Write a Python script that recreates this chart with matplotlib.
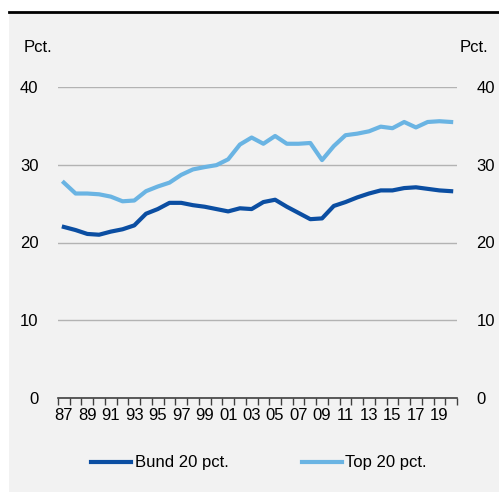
import numpy as np
import matplotlib.pyplot as plt
from matplotlib.patches import Rectangle
from matplotlib.lines import Line2D

plt.rcParams['font.family'] = ['Liberation Sans', 'DejaVu Sans']
plt.rcParams['font.size'] = 12

years = list(range(1987, 2021))
bund_20 = [22.0, 21.6, 21.1, 21.0, 21.4, 21.7, 22.2, 23.7, 24.3, 25.1,
           25.1, 24.8, 24.6, 24.3, 24.0, 24.4, 24.3, 25.2, 25.5, 24.6,
           23.8, 23.0, 23.1, 24.7, 25.2, 25.8, 26.3, 26.7, 26.7, 27.0,
           27.1, 26.9, 26.7, 26.6]
top_20 = [27.7, 26.3, 26.3, 26.2, 25.9, 25.3, 25.4, 26.6, 27.2, 27.7,
          28.7, 29.4, 29.7, 29.95, 30.7, 32.6, 33.5, 32.7, 33.7, 32.7,
          32.7, 32.8, 30.6, 32.4, 33.8, 34.0, 34.3, 34.9, 34.7, 35.5,
          34.8, 35.5, 35.6, 35.5]
y_ticks = [0, 10, 20, 30, 40]

dark_blue = '#0b4ea2'
light_blue = '#6ab4e3'
bg = '#f2f2f2'

W, H = 499, 492
fig = plt.figure(figsize=(W / 100, H / 100), dpi=100)
fig.patch.set_facecolor('white')

# grey panel and black rule on top
fig.patches.append(Rectangle((9 / W, 0), 1 - 9 / W, 1 - 12.5 / H,
                             transform=fig.transFigure, facecolor=bg,
                             edgecolor='none', zorder=-10))
fig.lines.append(Line2D([9 / W, 1], [1 - 11.5 / H, 1 - 11.5 / H],
                        transform=fig.transFigure, color='black', lw=2))

ax = fig.add_axes([58 / W, 1 - 398 / H, 399 / W, 311 / H])
ax.set_facecolor(bg)

x = np.arange(len(years))
ax.plot(x, bund_20, color=dark_blue, lw=3, label='Bund 20 pct.',
        solid_joinstyle='round', zorder=3)
ax.plot(x, top_20, color=light_blue, lw=3, label='Top 20 pct.',
        solid_joinstyle='round', zorder=3)

ax.set_xlim(-0.5, len(years) - 0.5)
ax.set_ylim(0, 40)

for s in ['top', 'left', 'right']:
    ax.spines[s].set_visible(False)
ax.spines['bottom'].set_color('#404040')
ax.spines['bottom'].set_linewidth(1.2)

ax.set_yticks(y_ticks)
ax.yaxis.grid(True, color='#b3b3b3', lw=1)
ax.set_axisbelow(True)
ax.tick_params(axis='y', left=False, right=False, labelleft=True,
               labelright=True, pad=10.5)

# tick marks between years, labels every second year
ax.set_xticks(np.arange(-0.5, len(years)), minor=False)
ax.set_xticklabels([])
ax.set_xticks(x[::2], minor=True)
ax.set_xticklabels([f'{y % 100:02d}' for y in years[::2]], minor=True)
ax.tick_params(axis='x', which='major', length=5, width=1, color='#404040',
               direction='out')
ax.tick_params(axis='x', which='minor', length=0, pad=7)

fig.text(24 / W, 1 - 47 / H, 'Pct.', ha='left', va='center')
fig.text(488 / W, 1 - 47 / H, 'Pct.', ha='right', va='center')

fig.legend(loc='center', bbox_to_anchor=(259 / W, 1 - 463 / H), ncol=2,
           frameon=False, handlelength=2.4, handletextpad=0.2,
           columnspacing=4.4)

fig.savefig('out.png', dpi=100, facecolor=fig.get_facecolor())
